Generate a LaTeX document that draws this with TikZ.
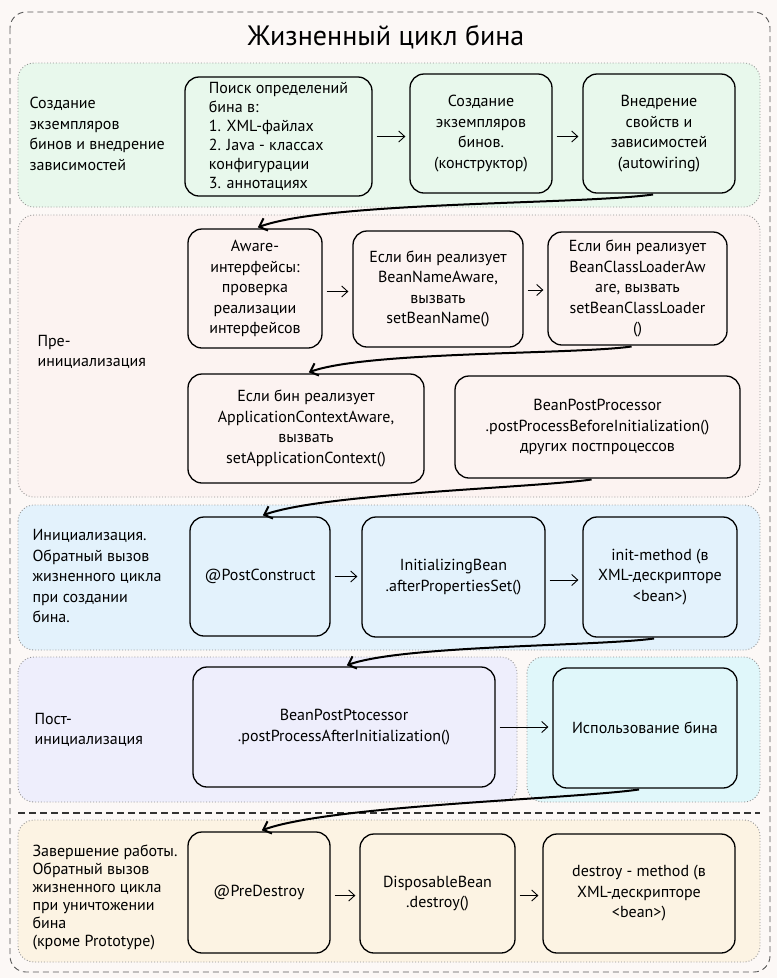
\documentclass[tikz,border=0pt]{standalone}
\usepackage{fontspec}
\setmainfont{PT Sans}
\usepackage{tikz}
\usetikzlibrary{arrows.meta}
\definecolor{pagebg}{HTML}{FCF8F6}
\definecolor{creategreen}{HTML}{E8F8EC}
\definecolor{prepink}{HTML}{FCF3F1}
\definecolor{initblue}{HTML}{E3F2FC}
\definecolor{postlilac}{HTML}{EEEEFC}
\definecolor{usecyan}{HTML}{E0F7FA}
\definecolor{endcream}{HTML}{FCF3E3}

\begin{document}
\begin{tikzpicture}[x=1pt,y=1pt,
	box/.style={draw, line width=1.3pt, rounded corners=14pt, align=center, inner sep=4pt, font=\fontsize{16}{20.5}\selectfont},
	lbl/.style={anchor=west, align=left, font=\fontsize{16}{20.5}\selectfont},
	zone/.style={draw=gray!85, dotted, line width=0.9pt, rounded corners=16pt},
	hop/.style={-{Straight Barb[length=6pt,width=11pt]}, line width=0.9pt, shorten <=4pt, shorten >=4pt},
	flow/.style={-{Straight Barb[length=7pt,width=13pt]}, line width=2pt, shorten <=6pt, shorten >=3pt}
	]
	\fill[pagebg] (0,0) rectangle (777,-978);
	\draw[gray!70!black, dashed, dash pattern=on 6pt off 4pt, line width=0.9pt, rounded corners=16pt] (10,-12) rectangle (770,-972);
	\node[font=\fontsize{28}{32}\selectfont] (title) at (386,-37) {Жизненный цикл бина};

	\draw[zone, fill=creategreen] (18,-63) rectangle (760,-207);
	\draw[zone, fill=prepink] (18,-215) rectangle (760,-497);
	\draw[zone, fill=initblue] (18,-505) rectangle (760,-650);
	\draw[zone, fill=postlilac] (18,-657) rectangle (517,-802);
	\draw[zone, fill=usecyan] (527,-657) rectangle (760,-802);
	\draw[zone, fill=endcream] (18,-820) rectangle (760,-962);
	\draw[line width=2pt, dash pattern=on 7pt off 4pt, black!80] (18,-813) -- (760,-813);

	\node[lbl] (createlbl) at (26,-134) {Создание\\экземпляров\\бинов и внедрение\\зависимостей};
	\node[lbl] (prelbl) at (34,-352) {Пре-\\инициализация};
	\node[lbl] (initlbl) at (29,-576) {Инициализация.\\Обратный вызов\\жизненного цикла\\при создании\\бина.};
	\node[lbl] (postlbl) at (31,-730) {Пост-\\инициализация};
	\node[lbl, font=\fontsize{16}{18}\selectfont] (endlbl) at (29,-897) {Завершение работы.\\Обратный вызов\\жизненного цикла\\при уничтожении\\бина\\(кроме Prototype)};

	\node[box, align=left, font=\fontsize{16}{19}\selectfont, minimum width=187pt, minimum height=119pt] (find) at (278.5,-136.5) {Поиск определений\\бина в:\\1. XML-файлах\\2. Java - классах\\конфигурации\\3. аннотациях};
	\node[box, minimum width=142pt, minimum height=119pt] (create) at (481,-133.5) {Создание\\экземпляров\\бинов.\\(конструктор)};
	\node[box, minimum width=152pt, minimum height=119pt] (inject) at (659,-133.5) {Внедрение\\свойств и\\зависимостей\\(autowiring)};

	\node[box, minimum width=134pt, minimum height=119pt] (aware) at (255,-288.5) {Aware-\\интерфейсы:\\проверка\\реализации\\интерфейсов};
	\node[box, minimum width=170pt, minimum height=116pt] (nameaware) at (438,-289) {Если бин реализует\\BeanNameAware,\\вызвать\\setBeanName()};
	\node[box, minimum width=179pt, minimum height=113pt] (loaderaware) at (637.5,-288.5) {Если бин реализует\\BeanClassLoaderAw\\are, вызвать\\setBeanClassLoader\\()};
	\node[box, minimum width=236pt, minimum height=109pt] (ctxaware) at (306,-428.5) {Если бин реализует\\ApplicationContextAware,\\вызвать\\setApplicationContext()};
	\node[box, minimum width=285pt, minimum height=102pt] (before) at (597.5,-427) {BeanPostProcessor\\.postProcessBeforeInitialization()\\других постпроцессов};

	\node[box, minimum width=140pt, minimum height=119pt] (postconstruct) at (260,-576.5) {@PostConstruct};
	\node[box, minimum width=183pt, minimum height=120pt] (initbean) at (453.5,-577) {InitializingBean\\.afterPropertiesSet()};
	\node[box, minimum width=154pt, minimum height=120pt] (initmethod) at (660,-577) {init-method (в\\XML-дескрипторе\\<bean>)};

	\node[box, minimum width=302pt, minimum height=120pt] (after) at (344,-727) {BeanPostPtocessor\\.postProcessAfterInitialization()};
	\node[box, minimum width=184pt, minimum height=120pt] (use) at (645,-728) {Использование бина};

	\node[box, minimum width=142pt, minimum height=121pt] (predestroy) at (259,-892.5) {@PreDestroy};
	\node[box, minimum width=155pt, minimum height=119pt] (disposable) at (437.5,-893.5) {DisposableBean\\.destroy()};
	\node[box, minimum width=192pt, minimum height=119pt] (destroymethod) at (639,-893.5) {destroy - method (в\\XML-дескрипторе\\<bean>)};

	\draw[hop] (find.east) -- (find.east -| create.west);
	\draw[hop] ([yshift=-3pt]create.east) -- ([yshift=-3pt]create.east -| inject.west);
	\draw[hop] ([yshift=-3pt]aware.east) -- ([yshift=-3pt]aware.east -| nameaware.west);
	\draw[hop] ([yshift=-1pt]nameaware.east) -- ([yshift=-1pt]nameaware.east -| loaderaware.west);
	\draw[hop] (postconstruct.east) -- (postconstruct.east -| initbean.west);
	\draw[hop] ([yshift=-3pt]initbean.east) -- ([yshift=-3pt]initbean.east -| initmethod.west);
	\draw[hop] (after.east) -- (after.east -| use.west);
	\draw[hop] ([yshift=-3pt]predestroy.east) -- ([yshift=-3pt]predestroy.east -| disposable.west);
	\draw[hop] ([yshift=-2pt]disposable.east) -- ([yshift=-2pt]disposable.east -| destroymethod.west);

	\draw[flow] (inject.south) to[out=188,in=20,looseness=0.5] (aware.north);
	\draw[flow] (loaderaware.south) to[out=188,in=20,looseness=0.5] (ctxaware.north);
	\draw[flow] (before.south) to[out=188,in=20,looseness=0.5] (postconstruct.north);
	\draw[flow] (initmethod.south) to[out=188,in=20,looseness=0.5] (after.north);
	\draw[flow] (use.south) to[out=188,in=20,looseness=0.5] (predestroy.north);
\end{tikzpicture}
\end{document}
